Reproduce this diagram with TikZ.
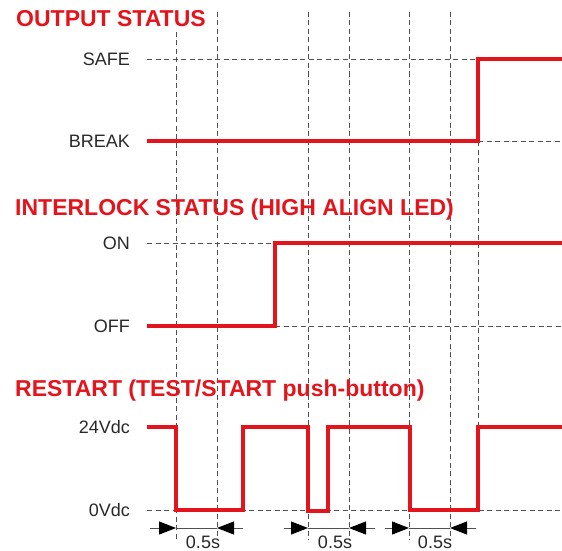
\documentclass[tikz,border=0pt]{standalone}
\usepackage{fontspec}
\setmainfont{Liberation Sans}
\usetikzlibrary{arrows.meta}
\definecolor{sigred}{RGB}{228,20,28}
\definecolor{gridgray}{RGB}{80,80,80}
\definecolor{labelgray}{RGB}{40,40,40}
\begin{document}
\begin{tikzpicture}[x=1pt,y=-1pt,
  grid/.style={draw=gridgray, line width=0.8pt, dash pattern=on 5pt off 3.5pt},
  signal/.style={draw=sigred, line width=4pt, line join=miter, line cap=butt},
  title/.style={font=\bfseries\fontsize{23}{25}\selectfont, text=sigred, anchor=base west, inner sep=0pt},
  level/.style={font=\fontsize{18}{20}\selectfont, text=labelgray, anchor=base east, inner sep=0pt},
  dur/.style={font=\fontsize{18}{20}\selectfont, text=labelgray, anchor=base, inner sep=0pt},
  dimline/.style={draw=gridgray, line width=1pt},
  dimarrow/.style={draw=gridgray, line width=1pt, arrows={-Triangle[length=17pt, width=13pt, black]}}
]
\useasboundingbox (0,0) rectangle (562,551);

% vertical grid lines
\coordinate (g1t) at (176,32);  \coordinate (g1b) at (176,540);
\coordinate (g2t) at (217,12);  \coordinate (g2b) at (217,540);
\coordinate (g3t) at (308,12);  \coordinate (g3b) at (308,540);
\coordinate (g4t) at (349,12);  \coordinate (g4b) at (349,540);
\coordinate (g5t) at (409,12);  \coordinate (g5b) at (409,540);
\coordinate (g6t) at (450,12);  \coordinate (g6b) at (450,540);
\coordinate (g7t) at (478,141); \coordinate (g7b) at (478,427);
\foreach \i in {1,...,7} { \draw[grid] (g\i t) -- (g\i b); }

% horizontal grid lines
\coordinate (safeL) at (147,59);   \coordinate (safeR) at (478,59);
\coordinate (brkL) at (478,141);   \coordinate (brkR) at (562,141);
\coordinate (onL) at (147,243);    \coordinate (onR) at (275,243);
\coordinate (offL) at (275,326);   \coordinate (offR) at (562,326);
\coordinate (zvL) at (147,510);    \coordinate (zvR) at (562,510);
\draw[grid] (safeL) -- (safeR);
\draw[grid] (brkL) -- (brkR);
\draw[grid] (onL) -- (onR);
\draw[grid] (offL) -- (offR);
\draw[grid] (zvL) -- (zvR);

% titles
\node[title] (t1) at (16,27) {OUTPUT STATUS};
\node[title] (t2) at (15,215) {INTERLOCK STATUS (HIGH ALIGN LED)};
\node[title] (t3) at (15,396) {RESTART (TEST/START push-button)};

% level labels
\node[level] (lsafe) at (130,65.5) {SAFE};
\node[level] (lbrk) at (130,147.5) {BREAK};
\node[level] (lon) at (130,249.5) {ON};
\node[level] (loff) at (130,332.5) {OFF};
\node[level] (l24) at (130,433.5) {24Vdc};
\node[level] (l0) at (130,516.5) {0Vdc};

% signals
\draw[signal] (147,141) -- (478,141) -- (478,59) -- (562,59);
\draw[signal] (147,326) -- (275,326) -- (275,243) -- (562,243);
\draw[signal] (147,427) -- (176,427) -- (176,510) -- (243,510) -- (243,427)
  -- (308,427) -- (308,511) -- (328,511) -- (328,427)
  -- (410,427) -- (410,510) -- (478,510) -- (478,427) -- (562,427);

% duration arrows
\coordinate (a1l) at (150,528); \coordinate (a1a) at (176,528);
\coordinate (a1b) at (217,528); \coordinate (a1r) at (243,528);
\coordinate (a2l) at (284,528); \coordinate (a2a) at (308,528);
\coordinate (a2b) at (349,528); \coordinate (a2r) at (375,528);
\coordinate (a3l) at (385,528); \coordinate (a3a) at (409,528);
\coordinate (a3b) at (450,528); \coordinate (a3r) at (476,528);
\foreach \i in {1,2,3} {
  \draw[dimline] (a\i a) -- (a\i b);
  \draw[dimarrow] (a\i l) -- (a\i a);
  \draw[dimarrow] (a\i r) -- (a\i b);
}
\node[dur] (d1) at (203,548) {0.5s};
\node[dur] (d2) at (335,548) {0.5s};
\node[dur] (d3) at (435,548) {0.5s};
\end{tikzpicture}
\end{document}
